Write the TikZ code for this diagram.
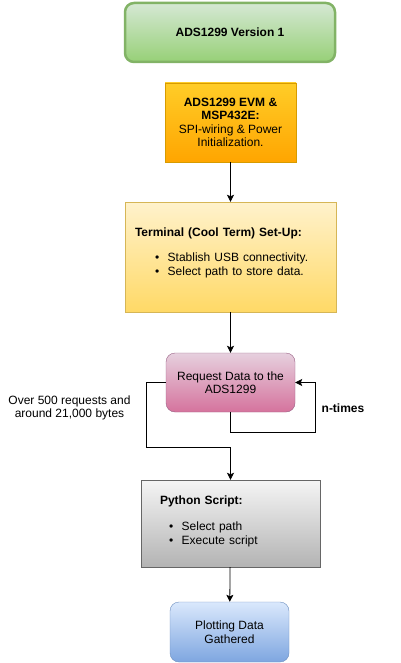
\documentclass[tikz,border=0pt]{standalone}
\usepackage{fontspec}
\setmainfont{Liberation Sans}
\usepackage{tikz}
\usetikzlibrary{positioning}
\usetikzlibrary{arrows.meta}

\definecolor{greenfill}{HTML}{D5E8D4}
\definecolor{greenshade}{HTML}{97D077}
\definecolor{greenline}{HTML}{82B366}
\definecolor{orangefill}{HTML}{FFCD28}
\definecolor{orangeshade}{HTML}{FFA500}
\definecolor{orangeline}{HTML}{D79B00}
\definecolor{yellowfill}{HTML}{FFF2CC}
\definecolor{yellowshade}{HTML}{FFD966}
\definecolor{yellowline}{HTML}{D6B656}
\definecolor{pinkfill}{HTML}{E6D0DE}
\definecolor{pinkshade}{HTML}{D5739D}
\definecolor{pinkline}{HTML}{996185}
\definecolor{grayfill}{HTML}{F5F5F5}
\definecolor{grayshade}{HTML}{B3B3B3}
\definecolor{grayline}{HTML}{666666}
\definecolor{bluefill}{HTML}{DAE8FC}
\definecolor{blueshade}{HTML}{7EA6E0}
\definecolor{blueline}{HTML}{6C8EBF}

\tikzset{
  every node/.style={font=\fontsize{12}{13.5}\selectfont},
  stage/.style={draw, inner sep=0pt, align=center},
  versionbox/.style={stage, rounded corners=9pt, line width=2.5pt, draw=greenline,
    top color=greenfill, bottom color=greenshade, minimum width=210pt, minimum height=59pt},
  evmbox/.style={stage, draw=orangeline, top color=orangefill, bottom color=orangeshade,
    minimum width=131pt, minimum height=79pt},
  termbox/.style={stage, align=left, draw=yellowline, top color=yellowfill, bottom color=yellowshade,
    minimum width=211pt, minimum height=110pt, text width=191pt},
  requestbox/.style={stage, rounded corners=9pt, draw=pinkline, top color=pinkfill, bottom color=pinkshade,
    minimum width=129pt, minimum height=59pt},
  pythonbox/.style={stage, align=left, draw=grayline, top color=grayfill, bottom color=grayshade,
    minimum width=179pt, minimum height=87pt, text width=141pt},
  plotbox/.style={stage, rounded corners=9pt, draw=blueline, top color=bluefill, bottom color=blueshade,
    minimum width=119pt, minimum height=60pt},
  flow/.style={-{Stealth[length=7pt,width=7pt,inset=1.5pt]}, line width=0.8pt}
}
\newcommand{\itembullet}[1]{\hspace*{#1}\textbullet\hspace{8.5pt}}

\begin{document}
\begin{tikzpicture}[x=1pt,y=-1pt]
\useasboundingbox (0,0) rectangle (401,663);

\node[versionbox] (version) at (230,32.5) {\textbf{ADS1299 Version 1}};
\node[evmbox] (evm) at (230.5,122.5)
{\textbf{ADS1299 EVM \&}\\\textbf{MSP432E:}\\SPI-wiring \& Power\\Initialization.};
\node[termbox, text depth=50pt] (terminal) at (230.5,257)
{\textbf{Terminal (Cool Term) Set-Up:}\\[12pt]
\itembullet{20pt}Stablish USB connectivity.\\
\itembullet{20pt}Select path to store data.};
\node[requestbox] (request) at (230.5,382.5) {Request Data to the\\ADS1299};
\node[pythonbox, text depth=47pt] (python) at (230.5,523.5)
{\textbf{Python Script:}\\[13pt]
\itembullet{9pt}Select path\\
\itembullet{9pt}Execute script};
\node[plotbox] (plot) at (229.5,632) {Plotting Data\\Gathered};

\node (ntimes) at (343,408) {\textbf{n-times}};
\node[align=center] (bytes) at (69.5,408) {Over 500 requests and\\around 21,000 bytes};

\coordinate (loop) at (315,432);
\coordinate (bend) at (146,447);

\draw[flow] (evm) -- (terminal);
\draw[flow] (terminal) -- (request);
\draw[flow] (request.south) |- (loop) |- (request.east);
\draw[flow] (request.west) -| (bend) -| (python.north);
\draw[flow] (python) -- (plot);
\end{tikzpicture}
\end{document}
